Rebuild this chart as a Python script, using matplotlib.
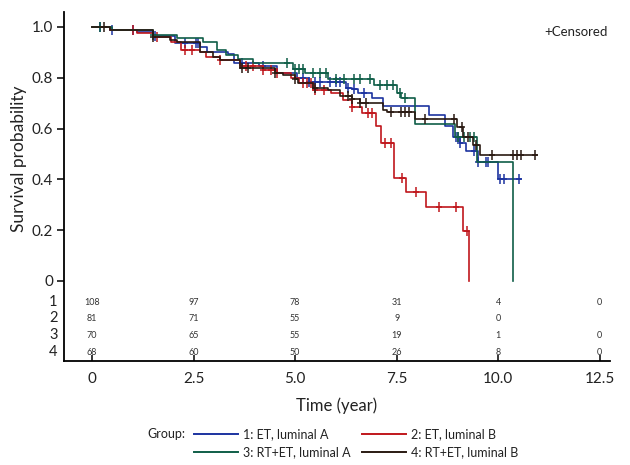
import numpy as np
import matplotlib
matplotlib.use("Agg")
import matplotlib.pyplot as plt
from matplotlib.lines import Line2D

plt.rcParams["font.family"] = ["Lato", "DejaVu Sans"]

# Kaplan-Meier steps: (event times, survival after event)
g1_t = [0.45, 1.1, 1.5, 2.05, 2.65, 2.82, 3.35, 3.5, 4.1, 4.55, 5.05, 5.35, 6.25, 6.4, 6.55, 6.9, 7.16,
        8.3, 8.68, 8.88, 9.05, 9.2, 9.5, 10.0]
g1_s = [0.99, 0.98, 0.965, 0.935, 0.92, 0.90, 0.895, 0.86, 0.845, 0.82, 0.80, 0.785, 0.76, 0.755, 0.74,
        0.72, 0.69, 0.653, 0.61, 0.567, 0.545, 0.51, 0.47, 0.40]
g1_c = [0.2, 0.5, 1.0, 1.55, 2.3, 2.55, 2.6, 3.7, 4.2, 5.2, 5.35, 5.5, 5.6, 5.85, 6.0, 6.1, 6.3, 6.45,
        6.7, 8.95, 9.0, 9.05, 9.4, 9.5, 9.7, 9.75, 10.05, 10.15, 10.5]
g1_end = 10.55

g2_t = [0.45, 1.1, 1.5, 1.95, 2.2, 2.65, 2.8, 3.15, 3.64, 4.2, 4.55, 4.9, 5.1, 5.44, 5.87, 6.17, 6.4,
        6.65, 6.98, 7.11, 7.43, 7.73, 8.22, 9.13, 9.28]
g2_s = [0.99, 0.975, 0.96, 0.94, 0.91, 0.90, 0.88, 0.87, 0.845, 0.83, 0.82, 0.80, 0.78, 0.752, 0.74,
        0.713, 0.685, 0.66, 0.61, 0.543, 0.405, 0.35, 0.291, 0.197, 0.0]
g2_c = [1.0, 1.6, 2.3, 2.45, 3.15, 3.8, 3.95, 4.2, 4.4, 4.55, 5.2, 5.3, 5.4, 5.5, 5.7, 6.4, 6.8, 6.9,
        7.2, 7.36, 7.63, 7.97, 8.54, 8.96, 9.23]
g2_end = 9.28

g3_t = [0.5, 1.5, 2.1, 2.73, 3.07, 3.3, 3.6, 3.95, 4.95, 5.25, 5.8, 6.95, 7.5, 7.6, 7.95, 8.93, 9.47, 10.36]
g3_s = [0.99, 0.97, 0.957, 0.94, 0.91, 0.89, 0.875, 0.86, 0.835, 0.82, 0.795, 0.77, 0.74, 0.72, 0.62,
        0.567, 0.47, 0.0]
g3_c = [0.2, 1.5, 4.8, 5.0, 5.1, 5.2, 5.45, 5.6, 5.75, 6.0, 6.2, 6.45, 6.6, 6.85, 7.1, 7.25, 7.4, 7.58,
        7.7, 9.0, 9.15, 9.3, 9.4]
g3_end = 10.36

g4_t = [0.45, 1.5, 1.92, 2.1, 2.66, 2.98, 3.15, 3.64, 4.5, 4.7, 5.0, 5.07, 5.45, 5.8, 6.1, 6.4, 6.6,
        7.16, 7.26, 7.95, 8.98, 9.13, 9.37, 9.55]
g4_s = [0.99, 0.96, 0.95, 0.94, 0.90, 0.88, 0.87, 0.84, 0.82, 0.81, 0.795, 0.78, 0.76, 0.75, 0.73,
        0.715, 0.70, 0.675, 0.665, 0.638, 0.607, 0.567, 0.535, 0.496]
g4_c = [0.3, 1.5, 3.7, 3.85, 4.5, 5.0, 5.5, 6.3, 6.4, 6.6, 6.75, 7.35, 7.6, 7.7, 7.8, 8.2, 8.9, 9.1,
        9.25, 9.45, 9.85, 10.35, 10.45, 10.55, 10.9]
g4_end = 10.95

groups = [
    ("1: ET, luminal A", "#1c33a0", g1_t, g1_s, g1_c, g1_end),
    ("2: ET, luminal B", "#c0171c", g2_t, g2_s, g2_c, g2_end),
    ("3: RT+ET, luminal A", "#0f5e48", g3_t, g3_s, g3_c, g3_end),
    ("4: RT+ET, luminal B", "#2a1a12", g4_t, g4_s, g4_c, g4_end),
]

# number at risk table
risk_times = [0, 2.5, 5.0, 7.5, 10.0, 12.5]
risk_rows = [
    ["108", "97", "78", "31", "4", "0"],
    ["81", "71", "55", "9", "0", ""],
    ["70", "65", "55", "19", "1", "0"],
    ["68", "60", "50", "26", "8", "0"],
]
row_y = [-0.083, -0.146, -0.213, -0.280]

xticks = [0, 2.5, 5.0, 7.5, 10.0, 12.5]
xtick_labels = ["0", "2.5", "5.0", "7.5", "10.0", "12.5"]
yticks = [0, 0.2, 0.4, 0.6, 0.8, 1.0]
ytick_labels = ["0", "0.2", "0.4", "0.6", "0.8", "1.0"]

fig = plt.figure(figsize=(6.3, 4.65), dpi=100)
ax = fig.add_axes([64 / 630, 1 - 361 / 465, 546 / 630, 349 / 465])

for name, col, t, s, cens, t_end in groups:
    tt = np.concatenate([[0.0], t, [t_end]])
    ss = np.concatenate([[1.0], s, [s[-1]]])
    ax.step(tt, ss, where="post", color=col, lw=1.2)
    # censor marks sit on the curve at their time
    idx = np.searchsorted(np.array(t), np.array(cens), side="right")
    cy = np.concatenate([[1.0], s])[idx]
    ax.plot(cens, cy, ls="none", marker="|", ms=7, mew=1.1, color=col)
    # short horizontal crossbar so the mark reads as "+"
    ax.plot(cens, cy, ls="none", marker="_", ms=5, mew=1.1, color=col)

ax.set_xlim(-0.69, 12.75)
ax.set_ylim(-0.315, 1.059)
for sp in ["top", "right"]:
    ax.spines[sp].set_visible(False)
ax.spines["left"].set_linewidth(1.3)
ax.spines["bottom"].set_linewidth(1.3)

ax.set_yticks(yticks)
ax.set_yticklabels(ytick_labels, fontsize=11, color="#222222")
ax.tick_params(axis="y", direction="out", length=5, width=1.1, pad=3)
ax.set_xticks(xticks)
ax.set_xticklabels(xtick_labels, fontsize=11, color="#222222")
ax.tick_params(axis="x", direction="in", length=4, width=1.1, pad=8)

for ry, lbl in zip(row_y, ["1", "2", "3", "4"]):
    ax.text(-0.85, ry, lbl, ha="right", va="center", fontsize=10.5, color="#222222")
for ry, row in zip(row_y, risk_rows):
    for rt, v in zip(risk_times, row):
        ax.text(rt, ry, v, ha="center", va="center", fontsize=6.5, color="#333333")

ax.set_ylabel("Survival probability", fontsize=12.5, color="#222222")
ax.yaxis.set_label_coords(-0.068, 0.58)
ax.set_xlabel("Time (year)", fontsize=12, color="#222222", labelpad=8)

fig.text(608 / 630, 1 - 32 / 465, "+Censored", ha="right", va="center", fontsize=9.5, color="#222222")

# legend drawn by hand to match layout
fig.text(185 / 630, 1 - 434 / 465, "Group:", ha="right", va="center", fontsize=9, color="#222222")
leg_pos = [(194, 434), (362, 434), (194, 452), (362, 452)]
for (name, col, *_), (lx, ly) in zip(groups, leg_pos):
    fig.add_artist(Line2D([lx / 630, (lx + 44) / 630], [1 - ly / 465, 1 - ly / 465],
                          color=col, lw=1.4, transform=fig.transFigure))
    fig.text((lx + 49) / 630, 1 - ly / 465, name, ha="left", va="center", fontsize=9, color="#222222")

fig.savefig("out.png", dpi=100)
